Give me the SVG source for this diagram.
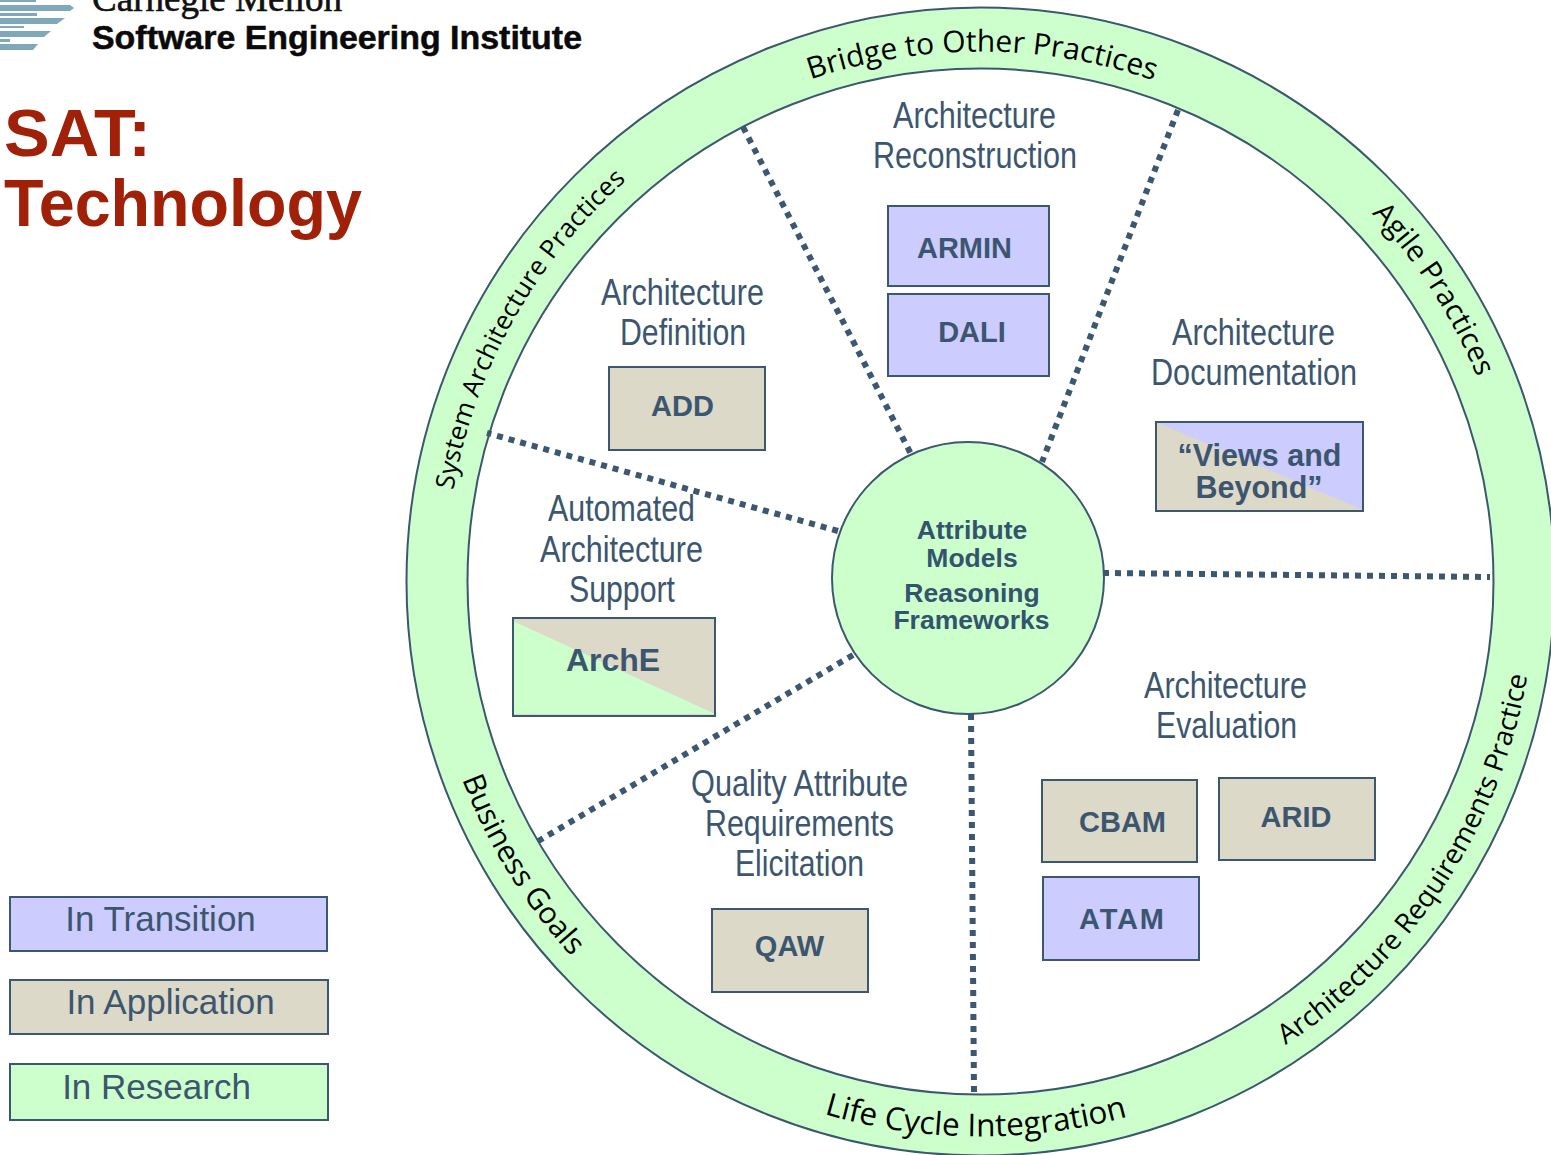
<svg xmlns="http://www.w3.org/2000/svg" width="1551" height="1155" viewBox="0 0 1551 1155">
<style>
text{font-family:"Liberation Sans",Arial,sans-serif}
.box{stroke:#3b5870;stroke-width:2}
.tr{fill:#ccccff}.ap{fill:#ddd9c8}.re{fill:#ccffcc}
.lab{fill:#3c5670;font-size:36px;text-anchor:middle}
.bx{fill:#3c5670;font-size:29px;font-weight:bold;text-anchor:middle}
.ctr{fill:#33536e;font-size:26.5px;font-weight:bold;text-anchor:middle}
.leg{fill:#3c5670;font-size:35px;text-anchor:middle}
.ring{fill:#000;font-family:"Open Sans","Noto Sans",sans-serif;font-size:30px;text-anchor:middle}
.ttl{fill:#a02008;font-size:66px;font-weight:bold}
.dot{fill:none;stroke:#3b5870;stroke-width:6;stroke-dasharray:6 6}
.stripe{fill:#7fa9bb}
</style>
<defs>
<path id="cw" d="M521.5 316.5A530 530 0 0 1 1439.5 316.5"/>
<path id="ccw" d="M499.9 859A555 555 0 0 0 1461.1 859"/>
</defs>
<g id="logo">
<polygon class="stripe" points="0,0 36,0 36,2 0,2"/>
<polygon class="stripe" points="0,5 70,5 74,8 70,11 0,11"/>
<polygon class="stripe" points="0,13 37,13 37,16 0,16"/>
<polygon class="stripe" points="0,18 65,18 57,24 0,24"/>
<polygon class="stripe" points="0,26 24,26 24,28 0,28"/>
<polygon class="stripe" points="0,31 51,31 44,37 0,37"/>
<polygon class="stripe" points="0,39 10,39 10,42 0,42"/>
<polygon class="stripe" points="0,44 38,44 33,50 0,50"/>
<text x="92" y="11" font-size="38" textLength="250" lengthAdjust="spacingAndGlyphs" style="font-family:'Liberation Serif',serif" stroke="#111" stroke-width=".6" fill="#111">Carnegie Mellon</text>
<text x="92" y="49" font-size="33" font-weight="bold" fill="#0a0a0a" stroke="#0a0a0a" stroke-width=".5" textLength="490" lengthAdjust="spacingAndGlyphs">Software Engineering Institute</text>
</g>
<g id="title">
<text class="ttl" x="4" y="156" textLength="147" lengthAdjust="spacingAndGlyphs">SAT:</text>
<text class="ttl" x="4" y="226" textLength="358" lengthAdjust="spacingAndGlyphs">Technology</text>
</g>
<g id="ring">
<path d="M980.5 7.5A574 574 0 1 1 980.5 1155.5A574 574 0 1 1 980.5 7.5ZM980.5 68.5A513 513 0 1 0 980.5 1094.5A513 513 0 1 0 980.5 68.5Z" fill="#ccffcc" fill-rule="evenodd" stroke="#3b5870" stroke-width="2"/>
<text class="ring" transform="rotate(0.2 980.5 581.5)"><textPath href="#cw" startOffset="50%">Bridge to Other Practices</textPath></text>
<text class="ring" dy="-7" style="font-size:29px" transform="rotate(57.2 980.5 581.5)"><textPath href="#cw" startOffset="50%">Agile Practices</textPath></text>
<text class="ring" dy="-5" style="font-size:26px" transform="rotate(299.2 980.5 581.5)"><textPath href="#cw" startOffset="50%">System Architecture Practices</textPath></text>
<text class="ring" style="font-size:27.5px" transform="rotate(-56.8 980.5 581.5)"><textPath href="#ccw" startOffset="50%">Architecture Requirements Practice</textPath></text>
<text class="ring" style="font-size:31.5px" transform="rotate(0.5 980.5 581.5)"><textPath href="#ccw" startOffset="50%">Life Cycle Integration</textPath></text>
<text class="ring" transform="rotate(58.3 980.5 581.5)"><textPath href="#ccw" startOffset="50%">Business Goals</textPath></text>
</g>
<g id="connectors">
<line class="dot" x1="743" y1="127" x2="912" y2="456"/>
<line class="dot" x1="1178" y1="110" x2="1042" y2="462"/>
<line class="dot" x1="1103" y1="573" x2="1490" y2="577"/>
<line class="dot" x1="971" y1="714" x2="974" y2="1092"/>
<line class="dot" x1="853" y1="655" x2="535" y2="843"/>
<line class="dot" x1="838" y1="531" x2="487" y2="433"/>
</g>
<g id="center">
<circle cx="968" cy="578" r="136" fill="#ccffcc" stroke="#3b5870" stroke-width="2"/>
<text class="ctr" x="972" y="539">Attribute</text>
<text class="ctr" x="972" y="567">Models</text>
<text class="ctr" x="972" y="602">Reasoning</text>
<text class="ctr" x="971.5" y="629">Frameworks</text>
</g>
<g id="reconstruction">
<text class="lab" x="974.5" y="128" textLength="163" lengthAdjust="spacingAndGlyphs">Architecture</text>
<text class="lab" x="975" y="168" textLength="204" lengthAdjust="spacingAndGlyphs">Reconstruction</text>
</g>
<g id="armin"><rect class="box tr" x="888" y="206" width="161" height="80"/><text class="bx" x="964.5" y="258">ARMIN</text></g>
<g id="dali"><rect class="box tr" x="888" y="294" width="161" height="82"/><text class="bx" x="972" y="342">DALI</text></g>
<g id="definition">
<text class="lab" x="682.5" y="305" textLength="163" lengthAdjust="spacingAndGlyphs">Architecture</text>
<text class="lab" x="683" y="345" textLength="126" lengthAdjust="spacingAndGlyphs">Definition</text>
</g>
<g id="add"><rect class="box ap" x="609" y="367" width="156" height="83"/><text class="bx" x="682.5" y="416">ADD</text></g>
<g id="documentation">
<text class="lab" x="1253.5" y="345" textLength="163" lengthAdjust="spacingAndGlyphs">Architecture</text>
<text class="lab" x="1254" y="385" textLength="206" lengthAdjust="spacingAndGlyphs">Documentation</text>
</g>
<g id="views">
<rect class="ap" x="1156" y="422" width="207" height="89"/>
<polygon class="tr" points="1156,422 1363,422 1363,510"/>
<rect class="box" x="1156" y="422" width="207" height="89" fill="none"/>
<text class="bx" x="1259.5" y="466" style="font-size:30.5px">“Views and</text>
<text class="bx" x="1259" y="498" style="font-size:30.5px">Beyond”</text>
</g>
<g id="support">
<text class="lab" x="621.5" y="521" textLength="147" lengthAdjust="spacingAndGlyphs">Automated</text>
<text class="lab" x="621.5" y="562" textLength="163" lengthAdjust="spacingAndGlyphs">Architecture</text>
<text class="lab" x="622" y="602" textLength="106" lengthAdjust="spacingAndGlyphs">Support</text>
</g>
<g id="arche">
<rect class="ap" x="513" y="618" width="202" height="98"/>
<polygon class="re" points="513,621 715,714 513,714"/>
<rect class="box" x="513" y="618" width="202" height="98" fill="none"/>
<text class="bx" x="613" y="671" style="font-size:32px">ArchE</text>
</g>
<g id="evaluation">
<text class="lab" x="1225.5" y="698" textLength="163" lengthAdjust="spacingAndGlyphs">Architecture</text>
<text class="lab" x="1226.5" y="738" textLength="141" lengthAdjust="spacingAndGlyphs">Evaluation</text>
</g>
<g id="cbam"><rect class="box ap" x="1042" y="780" width="155" height="82"/><text class="bx" x="1122.5" y="832">CBAM</text></g>
<g id="arid"><rect class="box ap" x="1219" y="778" width="156" height="82"/><text class="bx" x="1296" y="827">ARID</text></g>
<g id="atam"><rect class="box tr" x="1043" y="877" width="156" height="83"/><text class="bx" x="1121.5" y="929" textLength="85">ATAM</text></g>
<g id="elicitation">
<text class="lab" x="799.5" y="796" textLength="217" lengthAdjust="spacingAndGlyphs">Quality Attribute</text>
<text class="lab" x="799.5" y="836" textLength="189" lengthAdjust="spacingAndGlyphs">Requirements</text>
<text class="lab" x="799.5" y="876" textLength="129" lengthAdjust="spacingAndGlyphs">Elicitation</text>
</g>
<g id="qaw"><rect class="box ap" x="712" y="909" width="156" height="83"/><text class="bx" x="789.5" y="956">QAW</text></g>
<g id="legend-transition"><rect class="box tr" x="10" y="897" width="317" height="54"/><text class="leg" x="160.5" y="931">In Transition</text></g>
<g id="legend-application"><rect class="box ap" x="10" y="980" width="318" height="54"/><text class="leg" x="170.5" y="1014">In Application</text></g>
<g id="legend-research"><rect class="box re" x="10" y="1064" width="318" height="56"/><text class="leg" x="156.5" y="1099">In Research</text></g>
</svg>
